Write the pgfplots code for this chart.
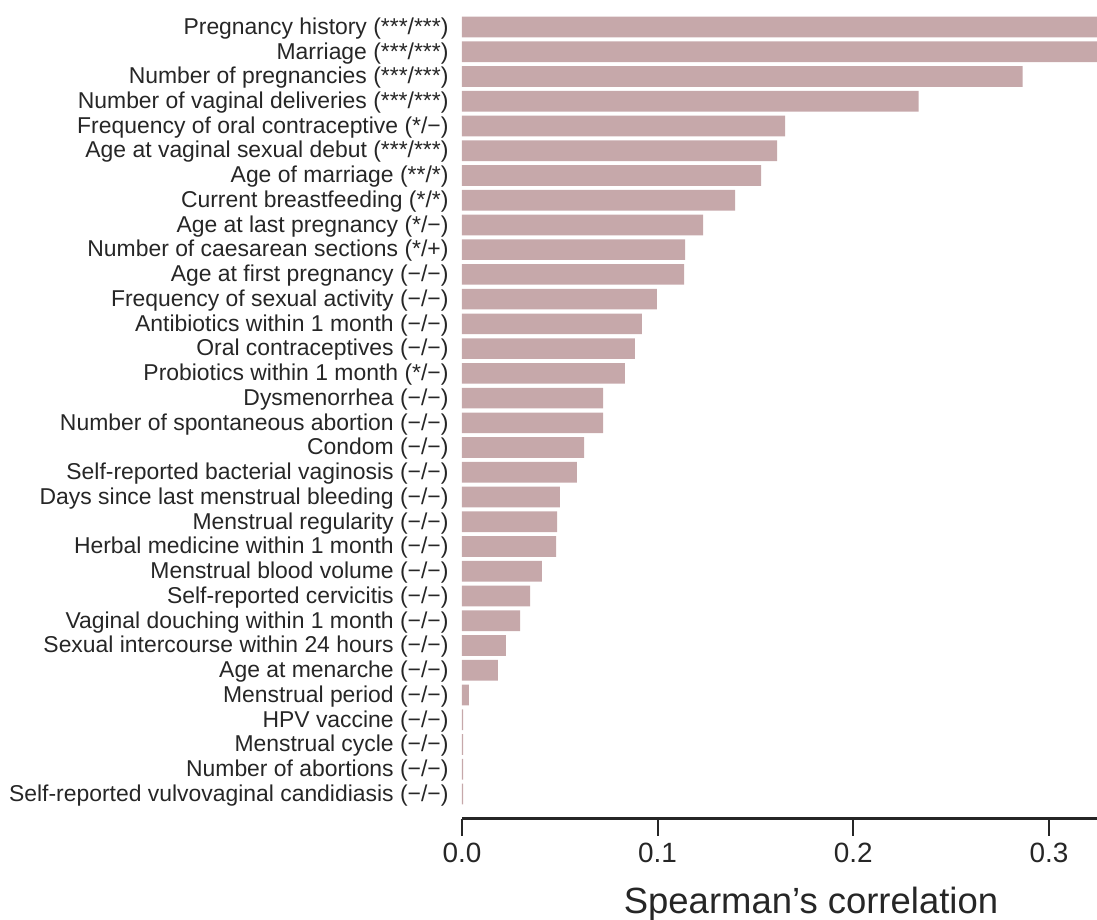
\documentclass[border=0pt]{standalone}
\usepackage{fontspec}
\setmainfont{Liberation Sans}
\usepackage{pgfplots}
\pgfplotsset{compat=1.18}
\definecolor{barcol}{RGB}{198,168,170}
\definecolor{txt}{RGB}{38,38,38}
\begin{document}
\begin{tikzpicture}
\begin{axis}[
  at={(0,0)}, anchor=south west,
  scale only axis,
  width=317.55bp, height=403.2bp,
  xmin=0, xmax=0.3245,
  ymin=-0.6, ymax=31.99,
  y dir=reverse,
  enlargelimits=false,
  xbar, bar width=10.35bp, bar shift=0pt,
  axis lines*=left,
  x axis line style={draw=txt, line width=1.1bp},
  y axis line style={draw=none},
  ytick style={draw=none},
  xtick style={draw=txt, line width=1.1bp},
  tick align=outside,
  major tick length=8.5bp,
  xtick={0,0.1,0.2,0.3},
  xticklabels={0.0,0.1,0.2,0.3},
  xticklabel style={font=\fontsize{14}{14}\selectfont, text=txt, anchor=north, inner sep=0pt, yshift=-3.75bp},
  ytick={0,...,31},
  yticklabels={
    Pregnancy history (***/***),
    Marriage (***/***),
    Number of pregnancies (***/***),
    Number of vaginal deliveries (***/***),
    Frequency of oral contraceptive (*/−),
    Age at vaginal sexual debut (***/***),
    Age of marriage (**/*),
    Current breastfeeding (*/*),
    Age at last pregnancy (*/−),
    Number of caesarean sections (*/+),
    Age at first pregnancy (−/−),
    Frequency of sexual activity (−/−),
    Antibiotics within 1 month (−/−),
    Oral contraceptives (−/−),
    Probiotics within 1 month (*/−),
    Dysmenorrhea (−/−),
    Number of spontaneous abortion (−/−),
    Condom (−/−),
    Self-reported bacterial vaginosis (−/−),
    Days since last menstrual bleeding (−/−),
    Menstrual regularity (−/−),
    Herbal medicine within 1 month (−/−),
    Menstrual blood volume (−/−),
    Self-reported cervicitis (−/−),
    Vaginal douching within 1 month (−/−),
    Sexual intercourse within 24 hours (−/−),
    Age at menarche (−/−),
    Menstrual period (−/−),
    HPV vaccine (−/−),
    Menstrual cycle (−/−),
    Number of abortions (−/−),
    Self-reported vulvovaginal candidiasis (−/−)},
  yticklabel style={font=\fontsize{11.5}{11.5}\selectfont, text=txt, anchor=east, inner sep=0pt, xshift=2bp, yshift=-0.7bp},
  xlabel={Spearman’s correlation},
  xlabel style={font=\fontsize{18.3}{18.3}\selectfont, text=txt, at={(axis description cs:0.5497,0)}, anchor=base, yshift=-47.25bp, inner sep=0pt},
]
\addplot[fill=barcol, draw=none] coordinates {
  (0.340,0) (0.335,1) (0.2865,2) (0.2333,3) (0.1651,4) (0.1610,5)
  (0.1529,6) (0.1396,7) (0.1232,8) (0.1140,9) (0.1135,10) (0.0996,11)
  (0.0920,12) (0.0884,13) (0.0833,14) (0.0721,15) (0.0721,16) (0.0624,17)
  (0.0588,18) (0.0501,19) (0.0486,20) (0.0481,21) (0.0409,22) (0.0348,23)
  (0.0297,24) (0.0225,25) (0.0184,26) (0.0036,27) (0.0006,28) (0.0006,29)
  (0.0006,30) (0.0006,31)
};
\end{axis}
\pgfresetboundingbox
\path[use as bounding box] (-230.95bp,-50.75bp) rectangle (317.55bp,409.25bp);
\end{tikzpicture}
\end{document}
